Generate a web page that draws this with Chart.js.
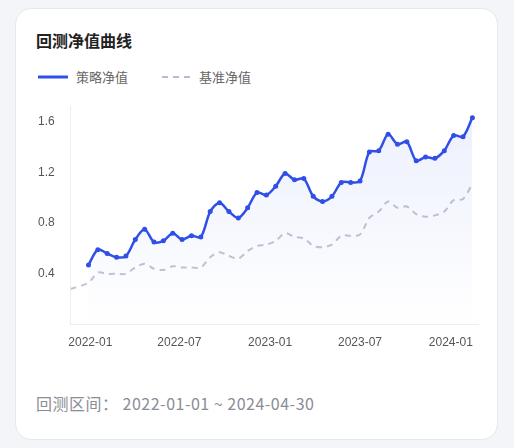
<!DOCTYPE html>
<html><head><meta charset="utf-8">
<script src="https://cdn.jsdelivr.net/npm/chart.js@4"></script>
<style>
body{margin:0;background:#f4f5f9;font-family:"Noto Sans CJK SC","Noto Sans",sans-serif;}
.card{position:absolute;left:15px;top:8px;width:483px;height:432px;background:#fff;border:1px solid #e6e8ef;border-radius:16px;box-sizing:border-box;}
.title{position:absolute;left:20px;top:19px;font-size:16px;font-weight:bold;color:#222;}
.leg{position:absolute;top:58px;font-size:13px;color:#666;display:flex;align-items:center;}
.foot{position:absolute;left:20px;top:382px;font-size:16px;color:#8a8d96;letter-spacing:0.5px;}
#wrap{position:absolute;left:14px;top:82px;width:452px;height:262px;}
</style></head><body>
<div class="card">
<div class="title">回测净值曲线</div>
<div class="leg" style="left:22px"><svg width="30" height="6"><line x1="1" y1="3" x2="29" y2="3" stroke="#2f4fe6" stroke-width="3" stroke-linecap="round"/></svg><span style="margin-left:8px">策略净值</span></div>
<div class="leg" style="left:145px"><svg width="30" height="6"><line x1="1" y1="3" x2="29" y2="3" stroke="#b9bccb" stroke-width="2" stroke-dasharray="6,5"/></svg><span style="margin-left:8px">基准净值</span></div>
<div id="wrap"><canvas id="c"></canvas></div>
<div class="foot">回测区间： 2022-01-01 ~ 2024-04-30</div>
</div>
<script>
const strategy=[0.47,0.59,0.56,0.53,0.54,0.67,0.75,0.65,0.66,0.72,0.67,0.70,0.69,0.89,0.96,0.89,0.84,0.92,1.04,1.02,1.09,1.19,1.14,1.15,1.01,0.97,1.01,1.12,1.12,1.13,1.36,1.37,1.50,1.42,1.44,1.29,1.32,1.31,1.37,1.49,1.48,1.63];
const benchStart=0.28;
const benchmark=[0.33,0.41,0.40,0.40,0.40,0.45,0.48,0.44,0.43,0.46,0.45,0.45,0.45,0.53,0.57,0.54,0.52,0.58,0.62,0.63,0.66,0.72,0.69,0.68,0.62,0.61,0.63,0.70,0.70,0.71,0.84,0.89,0.97,0.92,0.93,0.87,0.85,0.86,0.89,0.98,0.99,1.11];
const tickPos=[0.2,9.7,19.4,29.0,38.7];
const tickLabels=['2022-01','2022-07','2023-01','2023-07','2024-01'];
const yTicks=[0.4,0.8,1.2,1.6];
const sData=strategy.map((v,i)=>({x:i,y:v}));
const bData=[{x:-1.9,y:benchStart}].concat(benchmark.map((v,i)=>({x:i,y:v})));
const ctx=document.getElementById('c').getContext('2d');
new Chart(ctx,{type:'line',data:{datasets:[
{data:sData,borderColor:'#2f4fe6',borderWidth:2.5,pointRadius:2.5,pointBackgroundColor:'#2f4fe6',pointBorderWidth:0,tension:0.3,
 fill:{target:'origin'},backgroundColor:(c)=>{const a=c.chart.chartArea;if(!a)return 'rgba(47,79,230,0.05)';const g=c.chart.ctx.createLinearGradient(0,a.top,0,a.bottom);g.addColorStop(0,'rgba(47,79,230,0.09)');g.addColorStop(1,'rgba(47,79,230,0)');return g;}},
{data:bData,borderColor:'#c3c5d2',borderWidth:2,borderDash:[6,5],pointRadius:0,tension:0.3,fill:false}
]},options:{responsive:true,maintainAspectRatio:false,animation:false,
plugins:{legend:{display:false},tooltip:{enabled:false}},
layout:{padding:{right:0}},
scales:{x:{type:'linear',min:-1.9,max:41.6,grid:{display:false},border:{color:'#eceef3'},
 afterBuildTicks:(s)=>{s.ticks=tickPos.map(v=>({value:v}));},
 ticks:{autoSkip:false,maxRotation:0,color:'#555',font:{size:12},callback:(v,i)=>tickLabels[i]}},
y:{min:0,max:1.72,grid:{display:false},border:{color:'#eceef3'},
 afterBuildTicks:(s)=>{s.ticks=yTicks.map(v=>({value:v}));},
 ticks:{color:'#555',font:{size:12},padding:8,callback:(v)=>v.toFixed(1)}}}}});
</script></body></html>
